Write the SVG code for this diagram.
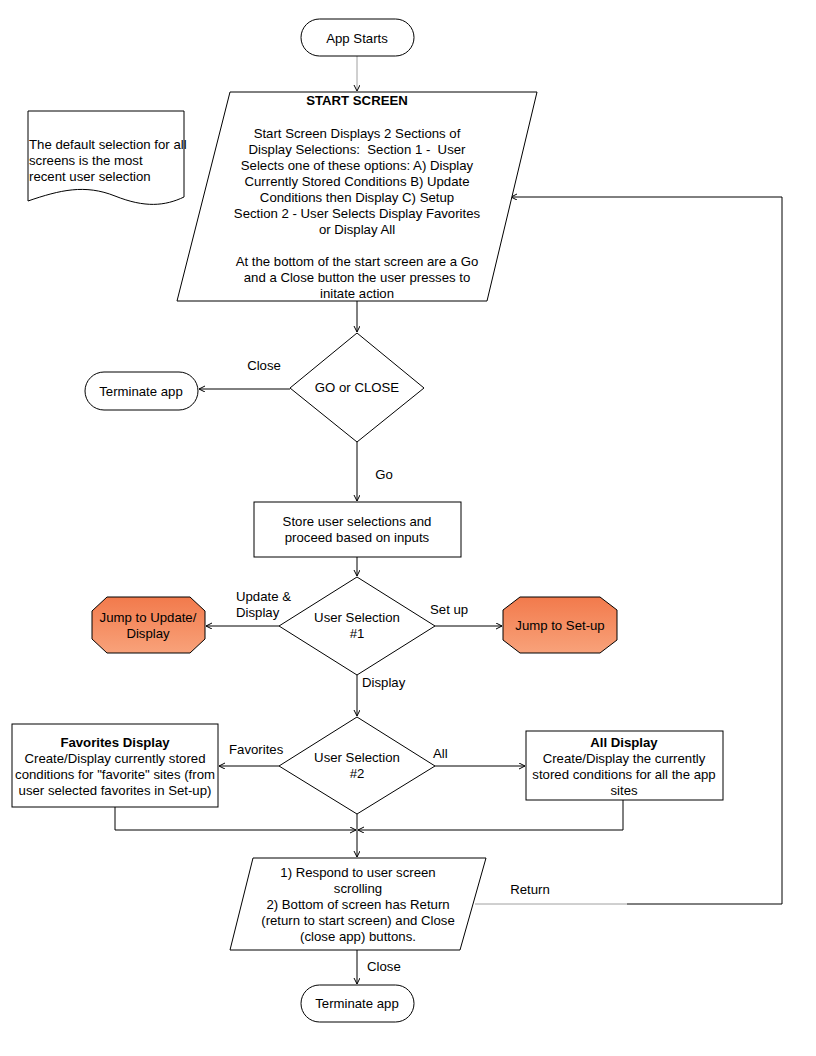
<svg xmlns="http://www.w3.org/2000/svg" width="816" height="1056" viewBox="0 0 816 1056">
<style>
.s{fill:#fff;stroke:#000;stroke-width:1}
.t{font-family:"Liberation Sans",Arial,sans-serif;font-size:13.2px;fill:#000;text-anchor:middle}
.l{text-anchor:start}
.b{font-weight:bold}
.c{fill:none;stroke:#000;stroke-width:1}
.g{stroke:#a0a0a0}
.o{fill:url(#og);stroke:#000;stroke-width:1}
</style>
<defs>
<linearGradient id="og" x1="0" y1="0" x2="0" y2="1">
<stop offset="0" stop-color="#F27A4C"/>
<stop offset="1" stop-color="#F8A27A"/>
</linearGradient>
<marker id="a" markerWidth="8" markerHeight="8" refX="6" refY="3" orient="auto" markerUnits="userSpaceOnUse">
<path d="M0,0 L6,3 L0,6" fill="none" stroke="#000" stroke-width="1"/>
</marker>
</defs>
<rect width="816" height="1056" fill="#fff"/>

<g id="connectors">
<line class="c g" x1="357" y1="56" x2="357" y2="91" marker-end="url(#a)"/>
<line class="c" x1="357" y1="301" x2="357" y2="332" marker-end="url(#a)"/>
<line class="c" x1="290" y1="389" x2="199" y2="389" marker-end="url(#a)"/>
<line class="c" x1="357" y1="442" x2="357" y2="501" marker-end="url(#a)"/>
<line class="c" x1="357" y1="557" x2="357" y2="576" marker-end="url(#a)"/>
<line class="c" x1="279" y1="626" x2="206" y2="626" marker-end="url(#a)"/>
<line class="c" x1="435" y1="626" x2="502" y2="626" marker-end="url(#a)"/>
<line class="c" x1="357" y1="675" x2="357" y2="716" marker-end="url(#a)"/>
<line class="c" x1="279" y1="766" x2="219" y2="766" marker-end="url(#a)"/>
<line class="c" x1="435" y1="766" x2="525" y2="766" marker-end="url(#a)"/>
<polyline class="c" points="115,807 115,830 356,830" marker-end="url(#a)"/>
<polyline class="c" points="623,800 623,830 358,830" marker-end="url(#a)"/>
<line class="c" x1="357" y1="814" x2="357" y2="857" marker-end="url(#a)"/>
<line class="c g" x1="475" y1="904" x2="627" y2="904"/>
<polyline class="c" points="627,904 782,904 782,197 511,197" marker-end="url(#a)"/>
<line class="c" x1="357" y1="950" x2="357" y2="984" marker-end="url(#a)"/>
<text class="t" x="264" y="370">Close</text>
<text class="t" x="384" y="479">Go</text>
<text class="t l" x="236" y="601">Update &amp;</text>
<text class="t l" x="236" y="617">Display</text>
<text class="t l" x="430" y="614">Set up</text>
<text class="t l" x="362" y="687">Display</text>
<text class="t l" x="229" y="754">Favorites</text>
<text class="t l" x="433" y="758">All</text>
<text class="t" x="530" y="894">Return</text>
<text class="t l" x="367" y="971">Close</text>
</g>

<g id="app-starts">
<rect class="s" x="301" y="19" width="113" height="37" rx="18.5"/>
<text class="t" x="357" y="43">App Starts</text>
</g>

<g id="start-screen">
<polygon class="s" points="230,92 537,92 487,301 177,301"/>
<text class="t b" x="357" y="105">START SCREEN</text>
<text class="t" x="357" y="138">Start Screen Displays 2 Sections of</text>
<text class="t" x="357" y="154" xml:space="preserve">Display Selections:  Section 1 -  User</text>
<text class="t" x="357" y="170">Selects one of these options: A) Display</text>
<text class="t" x="357" y="186">Currently Stored Conditions B) Update</text>
<text class="t" x="357" y="202">Conditions then Display C) Setup</text>
<text class="t" x="357" y="218">Section 2 - User Selects Display Favorites</text>
<text class="t" x="357" y="234">or Display All</text>
<text class="t" x="357" y="266">At the bottom of the start screen are a Go</text>
<text class="t" x="357" y="282">and a Close button the user presses to</text>
<text class="t" x="357" y="298">initate action</text>
</g>

<g id="note">
<path class="s" d="M28,111 L184,111 L184,197 C165,206 145,208 115,196 C85,184 60,190 28,201 Z"/>
<text class="t l" x="29" y="149">The default selection for all</text>
<text class="t l" x="29" y="165">screens is the most</text>
<text class="t l" x="29" y="181">recent user selection</text>
</g>

<g id="go-or-close">
<polygon class="s" points="357,333 424,388 357,442 290,388"/>
<text class="t" x="357" y="392">GO or CLOSE</text>
</g>

<g id="terminate-1">
<rect class="s" x="85" y="372" width="113" height="38" rx="19"/>
<text class="t" x="141" y="396">Terminate app</text>
</g>

<g id="store-selections">
<rect class="s" x="254" y="502" width="207" height="55"/>
<text class="t" x="357" y="526">Store user selections and</text>
<text class="t" x="357" y="542">proceed based on inputs</text>
</g>

<g id="user-selection-1">
<polygon class="s" points="357,577 435,626 357,675 279,626"/>
<text class="t" x="357" y="622">User Selection</text>
<text class="t" x="357" y="638">#1</text>
</g>

<g id="jump-update">
<polygon class="o" points="107,597 190,597 205,611 205,639 190,653 107,653 92,639 92,611"/>
<text class="t" x="148" y="622">Jump to Update/</text>
<text class="t" x="148" y="638">Display</text>
</g>

<g id="jump-setup">
<polygon class="o" points="520,597 600,597 617,610 617,640 600,653 520,653 503,640 503,610"/>
<text class="t" x="560" y="630">Jump to Set-up</text>
</g>

<g id="user-selection-2">
<polygon class="s" points="357,717 435,766 357,814 279,766"/>
<text class="t" x="357" y="762">User Selection</text>
<text class="t" x="357" y="778">#2</text>
</g>

<g id="favorites-display">
<rect class="s" x="12" y="724" width="206" height="83"/>
<text class="t b" x="115" y="747">Favorites Display</text>
<text class="t" x="115" y="763">Create/Display currently stored</text>
<text class="t" x="115" y="779">conditions for "favorite" sites (from</text>
<text class="t" x="115" y="795">user selected favorites in Set-up)</text>
</g>

<g id="all-display">
<rect class="s" x="526" y="731" width="197" height="69"/>
<text class="t b" x="624" y="747">All Display</text>
<text class="t" x="624" y="763">Create/Display the currently</text>
<text class="t" x="624" y="779">stored conditions for all the app</text>
<text class="t" x="624" y="795">sites</text>
</g>

<g id="respond-screen">
<polygon class="s" points="253,858 486,858 460,950 230,950"/>
<text class="t" x="358" y="877">1) Respond to user screen</text>
<text class="t" x="358" y="893">scrolling</text>
<text class="t" x="358" y="909">2) Bottom of screen has Return</text>
<text class="t" x="358" y="925">(return to start screen) and Close</text>
<text class="t" x="358" y="941">(close app) buttons.</text>
</g>

<g id="terminate-2">
<rect class="s" x="301" y="985" width="113" height="37" rx="18.5"/>
<text class="t" x="357" y="1008">Terminate app</text>
</g>
</svg>
